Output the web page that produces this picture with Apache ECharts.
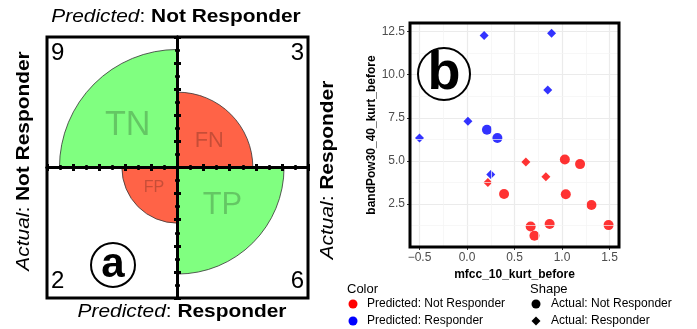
<!DOCTYPE html>
<html><head><meta charset="utf-8">
<script src="https://cdn.jsdelivr.net/npm/echarts@6/dist/echarts.min.js"></script>
<style>html,body{margin:0;padding:0;background:#fff}#c{width:697px;height:329px}</style>
</head><body><div id="c"></div>
<script>
// ---- Panel a: fourfold confusion-matrix data ----
const cellNames = ['TN', 'FN', 'FP', 'TP'];
const cellCounts = [9, 3, 2, 6];
const cellActual = ['Not Responder', 'Responder', 'Not Responder', 'Responder'];
const cellPredicted = ['Not Responder', 'Not Responder', 'Responder', 'Responder'];

// ---- Panel b: scatter data ----
const mfcc10KurtBefore = [0.18, 0.89, 0.85, 0.01, -0.50, 0.25, 0.21, 0.32, 0.62, 0.83, 0.22, 1.03, 1.19, 0.39, 1.04, 1.31, 0.67, 0.87, 0.71, 1.49];
const bandPow3040KurtBefore = [12.27, 12.40, 9.11, 7.30, 6.33, 4.21, 6.80, 6.33, 4.93, 4.08, 3.75, 5.08, 4.81, 3.08, 3.06, 2.44, 1.19, 1.34, 0.65, 1.27];
const predictedClass = ['Responder', 'Responder', 'Responder', 'Responder', 'Responder', 'Responder', 'Responder', 'Responder',
  'Not Responder', 'Not Responder', 'Not Responder', 'Not Responder', 'Not Responder', 'Not Responder', 'Not Responder',
  'Not Responder', 'Not Responder', 'Not Responder', 'Not Responder', 'Not Responder'];
const actualClass = ['Responder', 'Responder', 'Responder', 'Responder', 'Responder', 'Responder', 'Not Responder', 'Not Responder',
  'Responder', 'Responder', 'Responder', 'Not Responder', 'Not Responder', 'Not Responder', 'Not Responder',
  'Not Responder', 'Not Responder', 'Not Responder', 'Not Responder', 'Not Responder'];
const xTickValues = [-0.5, 0, 0.5, 1, 1.5];
const yTickValues = [2.5, 5, 7.5, 10, 12.5];

const FONT = 'Liberation Sans, Arial, Helvetica, sans-serif';
const chart = echarts.init(document.getElementById('c'));

// fourfold standardisation by actual class
const actualTotals = {};
cellCounts.forEach((c, i) => { actualTotals[cellActual[i]] = (actualTotals[cellActual[i]] || 0) + c; });
const fourfoldData = cellCounts.map((c, i) => [
  cellActual[i] === 'Not Responder' ? -1 : 1,
  cellPredicted[i] === 'Not Responder' ? 1 : -1,
  Math.sqrt(c / actualTotals[cellActual[i]]),
  c, i
]);

function renderCell(params, api) {
  const i = params.dataIndex;
  const sx = api.value(0), sy = api.value(1), r = api.value(2), cnt = api.value(3);
  const c = api.coord([0, 0]);
  const R = api.size([r, r])[0];
  let start, end;
  if (sx < 0 && sy > 0) { start = Math.PI; end = 1.5 * Math.PI; }
  else if (sx > 0 && sy > 0) { start = 1.5 * Math.PI; end = 2 * Math.PI; }
  else if (sx > 0 && sy < 0) { start = 0; end = 0.5 * Math.PI; }
  else { start = 0.5 * Math.PI; end = Math.PI; }
  const correct = cellActual[i] === cellPredicted[i];
  const ang = 40 * Math.PI / 180;
  const lx = c[0] + sx * 0.55 * R * Math.cos(ang);
  const ly = c[1] - sy * 0.55 * R * Math.sin(ang);
  const corner = api.coord([sx, sy]);
  return {
    type: 'group',
    children: [
      { type: 'sector', shape: { cx: c[0], cy: c[1], r0: 0, r: R, startAngle: start, endAngle: end },
        style: { fill: correct ? '#80FF80' : '#FF6347', stroke: '#333', lineWidth: 0.8 } },
      { type: 'text', style: { x: lx, y: ly, text: cellNames[i], fontSize: 0.29 * R, fontFamily: FONT,
        fill: 'rgba(0,0,0,0.22)', align: 'center', verticalAlign: 'middle' } },
      { type: 'text', style: { x: corner[0] - sx * 4, y: corner[1] + (sy > 0 ? 4 : -5), text: String(cnt),
        fontSize: 24, fontFamily: FONT, fill: '#000', align: sx < 0 ? 'left' : 'right',
        verticalAlign: sy > 0 ? 'top' : 'bottom' } }
    ]
  };
}

const ffAxisCommon = {
  gridIndex: 0, type: 'value', min: -1, max: 1, interval: 0.2, z: 10,
  axisLine: { show: true, onZero: true, lineStyle: { color: '#000', width: 3 } },
  axisTick: { show: true, inside: false, length: 3.5, lineStyle: { color: '#000', width: 3 } },
  minorTick: { show: true, splitNumber: 2, length: 2.5, lineStyle: { color: '#000', width: 2.5 } },
  axisLabel: { show: false }, splitLine: { show: false }
};

const scatterItems = mfcc10KurtBefore.map((x, i) => ({
  value: [x, bandPow3040KurtBefore[i]],
  symbol: actualClass[i] === 'Not Responder' ? 'circle' : 'diamond',
  symbolSize: actualClass[i] === 'Not Responder' ? 10 : 9,
  itemStyle: { color: predictedClass[i] === 'Not Responder' ? '#FF0000' : '#0000FF' }
}));
function minorOf(ticks, lo, hi) {
  const step = ticks[1] - ticks[0];
  const out = [];
  [ticks[0] - step].concat(ticks).forEach(v => { const m = v + step / 2; if (m > lo && m < hi) out.push(m); });
  return out;
}
const xMin = -0.6, xMax = 1.6, yMin = 0, yMax = 13;
const minorLines = minorOf(xTickValues, xMin, xMax).map(v => ({ xAxis: v }))
  .concat(minorOf(yTickValues, yMin, yMax).map(v => ({ yAxis: v })));

const S = 1.16; // glyph stretch along the text direction, as in the reference
function titleRich() {
  return {
    i: { fontStyle: 'italic', fontSize: 18, fontFamily: FONT, fill: '#000' },
    n: { fontSize: 18, fontFamily: FONT, fill: '#000' },
    b: { fontWeight: 'bold', fontSize: 18, fontFamily: FONT, fill: '#000' }
  };
}
function hTitle(x, y, lead, rest) {
  return { type: 'text', x: x, y: y, scaleX: S, z: 100,
    style: { text: '{i|' + lead + '}{n|: }{b|' + rest + '}', align: 'center', verticalAlign: 'middle', rich: titleRich() } };
}
function vTitle(x, y, lead, rest) {
  return { type: 'text', x: x, y: y, rotation: Math.PI / 2, scaleX: S, z: 100,
    style: { text: '{i|' + lead + '}{n|: }{b|' + rest + '}', align: 'center', verticalAlign: 'middle', rich: titleRich() } };
}
function badge(cx, cy, r, letter, fs) {
  return [
    { type: 'circle', shape: { cx: cx, cy: cy, r: r }, z: 100,
      style: { fill: '#fff', stroke: '#000', lineWidth: 2 } },
    { type: 'text', x: cx, y: cy, z: 101,
      style: { text: letter, fontSize: fs, fontWeight: 'bold', fontFamily: FONT, fill: '#000',
        align: 'center', verticalAlign: 'middle' } }
  ];
}
const legendTextStyle = { fontSize: 12, fontFamily: FONT, fill: '#000', verticalAlign: 'middle' };

chart.setOption({
  animation: false,
  backgroundColor: '#fff',
  grid: [
    { left: 47, top: 37, width: 261, height: 261, show: true, borderColor: '#000', borderWidth: 3, backgroundColor: 'transparent', z: 12 },
    { left: 410, top: 23, width: 209, height: 224, show: true, borderColor: '#000', borderWidth: 3, backgroundColor: 'transparent', z: 12 }
  ],
  xAxis: [
    Object.assign({}, ffAxisCommon, { position: 'bottom' }),
    Object.assign({}, ffAxisCommon, { position: 'top' }),
    { gridIndex: 1, type: 'value', min: xMin, max: xMax, position: 'bottom',
      name: 'mfcc_10_kurt_before', nameLocation: 'middle', nameGap: 19,
      nameTextStyle: { fontWeight: 'bold', fontSize: 12, fontFamily: FONT, color: '#000' },
      axisLine: { show: false, onZero: false },
      axisTick: { show: true, inside: false, length: 3, lineStyle: { color: '#333' } },
      axisLabel: { showMinLabel: false, showMaxLabel: false, margin: 5, fontSize: 12, fontFamily: FONT, color: '#4D4D4D',
        formatter: v => v.toFixed(1).replace('-', '\u2212') },
      splitLine: { show: true, lineStyle: { color: '#EBEBEB', width: 1.2 } } }
  ],
  yAxis: [
    Object.assign({}, ffAxisCommon, { position: 'left' }),
    Object.assign({}, ffAxisCommon, { position: 'right' }),
    { gridIndex: 1, type: 'value', min: yMin, max: yMax, interval: 2.5, position: 'left',
      name: 'bandPow30_40_kurt_before', nameLocation: 'middle', nameGap: 32, nameRotate: 90,
      nameTextStyle: { fontWeight: 'bold', fontSize: 12, fontFamily: FONT, color: '#000' },
      axisLine: { show: false, onZero: false },
      axisTick: { show: true, inside: false, length: 3, lineStyle: { color: '#333' } },
      axisLabel: { showMinLabel: false, showMaxLabel: false, margin: 5, fontSize: 12, fontFamily: FONT, color: '#4D4D4D',
        formatter: v => v.toFixed(1) },
      splitLine: { show: true, lineStyle: { color: '#EBEBEB', width: 1.2 } } }
  ],
  series: [
    { type: 'custom', xAxisIndex: 0, yAxisIndex: 0, z: 1, renderItem: renderCell, data: fourfoldData, silent: true },
    { type: 'scatter', xAxisIndex: 2, yAxisIndex: 2, z: 1, data: [], silent: true,
      markLine: { silent: true, symbol: 'none', label: { show: false }, animation: false,
        lineStyle: { color: '#F3F3F3', width: 0.7, type: 'solid' }, data: minorLines } },
    { type: 'scatter', xAxisIndex: 2, yAxisIndex: 2, z: 3, data: scatterItems }
  ],
  graphic: [
    hTitle(176, 17, 'Predicted', 'Not Responder'),
    hTitle(182, 312, 'Predicted', 'Responder'),
    vTitle(24, 161, 'Actual', 'Not Responder'),
    vTitle(328, 170, 'Actual', 'Responder'),
    ...badge(113, 265, 22, 'a', 42),
    ...badge(444, 74, 26, 'b', 54),
    { type: 'text', x: 347, y: 289, style: { text: 'Color', fontSize: 13, fontFamily: FONT, fill: '#000', verticalAlign: 'middle' } },
    { type: 'circle', shape: { cx: 353, cy: 304, r: 4.5 }, style: { fill: '#FF0000' } },
    { type: 'text', x: 367, y: 304, style: Object.assign({ text: 'Predicted: Not Responder' }, legendTextStyle) },
    { type: 'circle', shape: { cx: 353, cy: 321, r: 4.5 }, style: { fill: '#0000FF' } },
    { type: 'text', x: 367, y: 321, style: Object.assign({ text: 'Predicted: Responder' }, legendTextStyle) },
    { type: 'text', x: 530, y: 289, style: { text: 'Shape', fontSize: 13, fontFamily: FONT, fill: '#000', verticalAlign: 'middle' } },
    { type: 'circle', shape: { cx: 536, cy: 304, r: 4.5 }, style: { fill: '#000' } },
    { type: 'text', x: 551, y: 304, style: Object.assign({ text: 'Actual: Not Responder' }, legendTextStyle) },
    { type: 'polygon', shape: { points: [[536, 316.5], [540.5, 321], [536, 325.5], [531.5, 321]] }, style: { fill: '#000' } },
    { type: 'text', x: 551, y: 321, style: Object.assign({ text: 'Actual: Responder' }, legendTextStyle) }
  ]
});
</script></body></html>
